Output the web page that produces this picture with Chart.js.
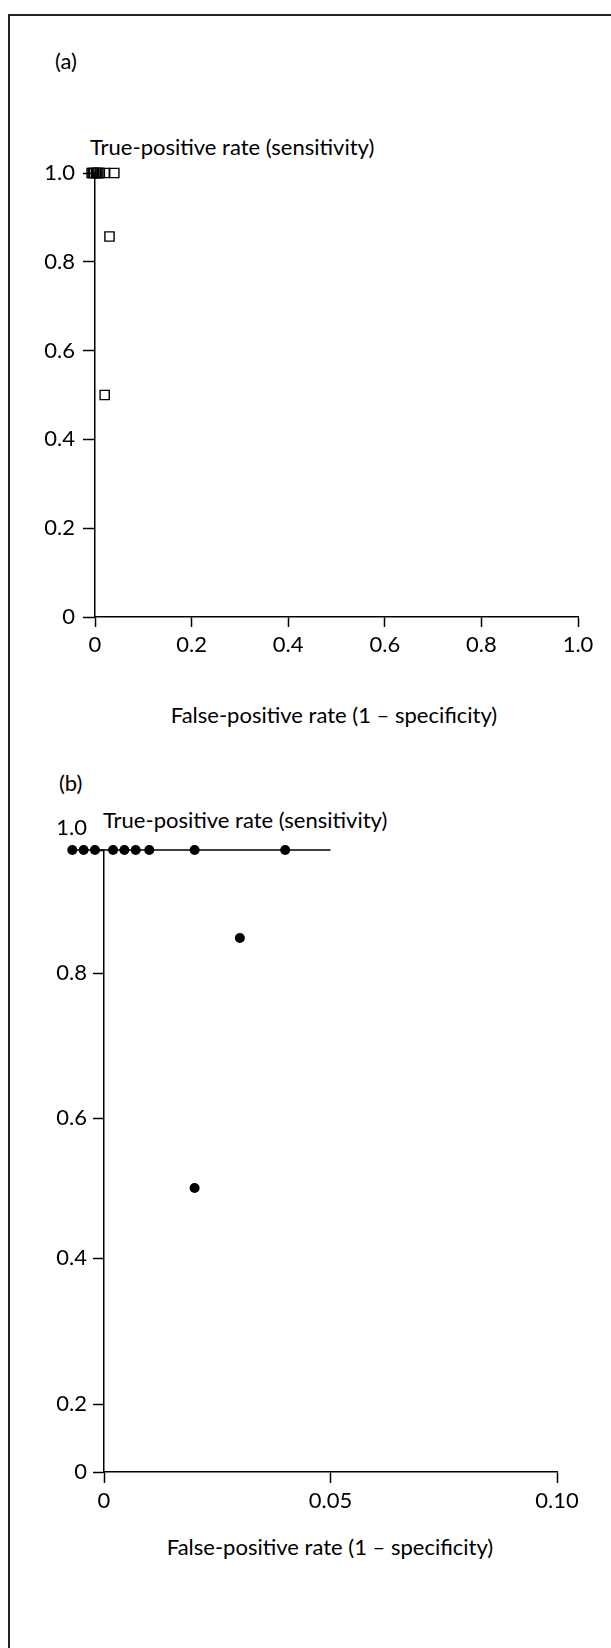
<!DOCTYPE html>
<html>
<head>
<meta charset="utf-8">
<script src="https://cdn.jsdelivr.net/npm/chart.js@4.4.0/dist/chart.umd.min.js"></script>
<style>
  html, body { margin: 0; padding: 0; background: #fff; }
  body { width: 611px; height: 1648px; position: relative; overflow: hidden; font-family: Lato, "Open Sans", sans-serif; color: #000; }
  .frame { position: absolute; left: 8px; top: 14px; right: -10px; bottom: -10px; border-top: 2px solid #222; border-left: 2px solid #222; }
  canvas { position: absolute; left: 0; }
  .lbl { position: absolute; font-size: 22px; line-height: 24px; white-space: nowrap; }
  .mid { transform: translateX(-50%); }
</style>
</head>
<body>
<div class="frame"></div>

<div class="lbl" style="left:55px; top:49px;">(a)</div>
<div class="lbl" style="left:90px; top:135px;">True-positive rate (sensitivity)</div>
<div class="lbl mid" style="left:334px; top:703px;">False-positive rate (1 – specificity)</div>
<canvas id="rocFull" width="611" height="700" style="top:0"></canvas>

<div class="lbl" style="left:59px; top:771px;">(b)</div>
<div class="lbl" style="left:103px; top:808px;">True-positive rate (sensitivity)</div>
<div class="lbl mid" style="left:330px; top:1535px;">False-positive rate (1 – specificity)</div>
<canvas id="rocZoom" width="611" height="800" style="top:760px"></canvas>

<script>
// study-level operating points (FPR, TPR); studies with zero or near-zero
// false positives are spread either side of the axis so they don't stack
const fprValues = [-0.007, -0.0045, -0.002, 0.002, 0.0045, 0.007, 0.01, 0.02, 0.04, 0.03, 0.02];
const tprValues = [1, 1, 1, 1, 1, 1, 1, 1, 1, 0.857, 0.5];

// horizontal guide at sensitivity 1.0 on the zoomed panel
const guideFpr = [-0.007, 0.05];
const guideTpr = [1, 1];

// axis ticks
const tprTicks = [0, 0.2, 0.4, 0.6, 0.8, 1.0];
const fprTicksFull = [0, 0.2, 0.4, 0.6, 0.8, 1.0];
const fprTicksZoom = [0, 0.05, 0.10];

// the zoomed panel's sensitivity axis is not evenly spaced in print:
// share of the axis height at which each tick value sits
const zoomTprStops = [0, 0.109, 0.344, 0.569, 0.802, 1];

const INK = '#000';
const FONT = { family: 'Lato, "Open Sans", sans-serif', size: 22 };

const points = fprValues.map((x, i) => ({ x: x, y: tprValues[i] }));
const guide = guideFpr.map((x, i) => ({ x: x, y: guideTpr[i] }));

// linear scale with piecewise spacing between the given stop values
class WarpedScale extends Chart.LinearScale {
    static id = 'warped';
    static defaults = {};

    _decimal(value) {
        const vals = this.options.stopValues;
        const fr = this.options.stopFractions;
        if (value <= vals[0]) return fr[0] + (value - vals[0]) * (fr[1] - fr[0]) / (vals[1] - vals[0]);
        for (let i = 1; i < vals.length; i++) {
            if (value <= vals[i]) {
                const t = (value - vals[i - 1]) / (vals[i] - vals[i - 1]);
                return fr[i - 1] + t * (fr[i] - fr[i - 1]);
            }
        }
        const n = vals.length - 1;
        return fr[n] + (value - vals[n]) * (fr[n] - fr[n - 1]) / (vals[n] - vals[n - 1]);
    }

    getPixelForValue(value) {
        if (value === null || isNaN(value)) return NaN;
        return this.getPixelForDecimal(this._decimal(value));
    }

    getValueForPixel(pixel) {
        const d = this.getDecimalForPixel(pixel);
        const vals = this.options.stopValues;
        const fr = this.options.stopFractions;
        for (let i = 1; i < fr.length; i++) {
            if (d <= fr[i]) {
                const t = (d - fr[i - 1]) / (fr[i] - fr[i - 1]);
                return vals[i - 1] + t * (vals[i] - vals[i - 1]);
            }
        }
        return vals[vals.length - 1];
    }
}
Chart.register(WarpedScale);

// let points sit outside the plot rectangle (left of the y axis)
const looseArea = {
    id: 'looseArea',
    beforeDatasetsDraw(chart) {
        chart._plotArea = chart.chartArea;
        chart.chartArea = { left: 0, top: 0, right: chart.width, bottom: chart.height,
                            width: chart.width, height: chart.height };
    },
    afterDatasetsDraw(chart) {
        chart.chartArea = chart._plotArea;
    }
};

function fmt(v, digits) {
    return Math.abs(v) < 1e-9 ? '0' : v.toFixed(digits);
}

function axis(opts) {
    return {
        type: opts.type || 'linear',
        min: opts.min,
        max: opts.max,
        stopValues: opts.stopValues,
        stopFractions: opts.stopFractions,
        afterBuildTicks: scale => { scale.ticks = opts.ticks.map(v => ({ value: v })); },
        afterFit: opts.afterFit,
        grid: {
            display: true,
            drawOnChartArea: false,
            drawTicks: true,
            tickLength: opts.tickLength,
            tickColor: INK,
            tickWidth: 1.5
        },
        border: { display: true, color: INK, width: 1.5 },
        ticks: {
            color: INK,
            font: opts.font || FONT,
            padding: opts.padding,
            maxRotation: 0,
            autoSkip: false,
            callback: opts.callback || (v => fmt(v, opts.digits))
        }
    };
}

const baseOptions = {
    responsive: false,
    animation: false,
    events: [],
    plugins: { legend: { display: false }, tooltip: { enabled: false }, title: { display: false } }
};

// (a) full ROC space
new Chart(document.getElementById('rocFull'), {
    type: 'scatter',
    data: {
        datasets: [{
            data: points,
            pointStyle: 'rect',
            pointRadius: 6.5,
            borderWidth: 1.4,
            borderColor: INK,
            backgroundColor: 'rgba(0,0,0,0)',
            clip: false
        }]
    },
    options: {
        ...baseOptions,
        layout: { padding: { left: 35, right: 33, top: 173, bottom: 43 } },
        scales: {
            x: axis({ min: 0, max: 1, ticks: fprTicksFull, digits: 1, tickLength: 10, padding: 5,
                      afterFit: s => { s.height = 40; } }),
            y: axis({ min: 0, max: 1, ticks: tprTicks, digits: 1, tickLength: 12, padding: 8,
                      afterFit: s => { s.width = 60; } })
        }
    },
    plugins: [looseArea]
});

// (b) zoom on the low false-positive region
new Chart(document.getElementById('rocZoom'), {
    type: 'scatter',
    data: {
        datasets: [{
            type: 'line',
            data: guide,
            borderColor: INK,
            borderWidth: 1.5,
            pointRadius: 0,
            clip: false,
            order: 2
        }, {
            data: points,
            pointStyle: 'circle',
            pointRadius: 5,
            borderWidth: 0,
            backgroundColor: INK,
            clip: false,
            order: 1
        }]
    },
    options: {
        ...baseOptions,
        layout: { padding: { left: 44, right: 54, top: 90, bottom: 48 } },
        scales: {
            x: axis({ min: 0, max: 0.1, ticks: fprTicksZoom, digits: 2, tickLength: 11, padding: 5,
                      afterFit: s => { s.height = 40; } }),
            y: axis({ type: 'warped', min: 0, max: 1, ticks: tprTicks, digits: 1, tickLength: 11, padding: 6,
                      stopValues: tprTicks, stopFractions: zoomTprStops,
                      afterFit: s => { s.width = 60; },
                      // the 1.0 label is lifted clear of the row of points:
                      // two lines, the second blank, with a tall line height
                      callback: v => (v === 1 ? ['1.0', ''] : fmt(v, 1)),
                      font: c => (c.tick && c.tick.value === 1)
                          ? { family: FONT.family, size: FONT.size, lineHeight: '44px' }
                          : FONT })
        }
    },
    plugins: [looseArea]
});
</script>
</body>
</html>
